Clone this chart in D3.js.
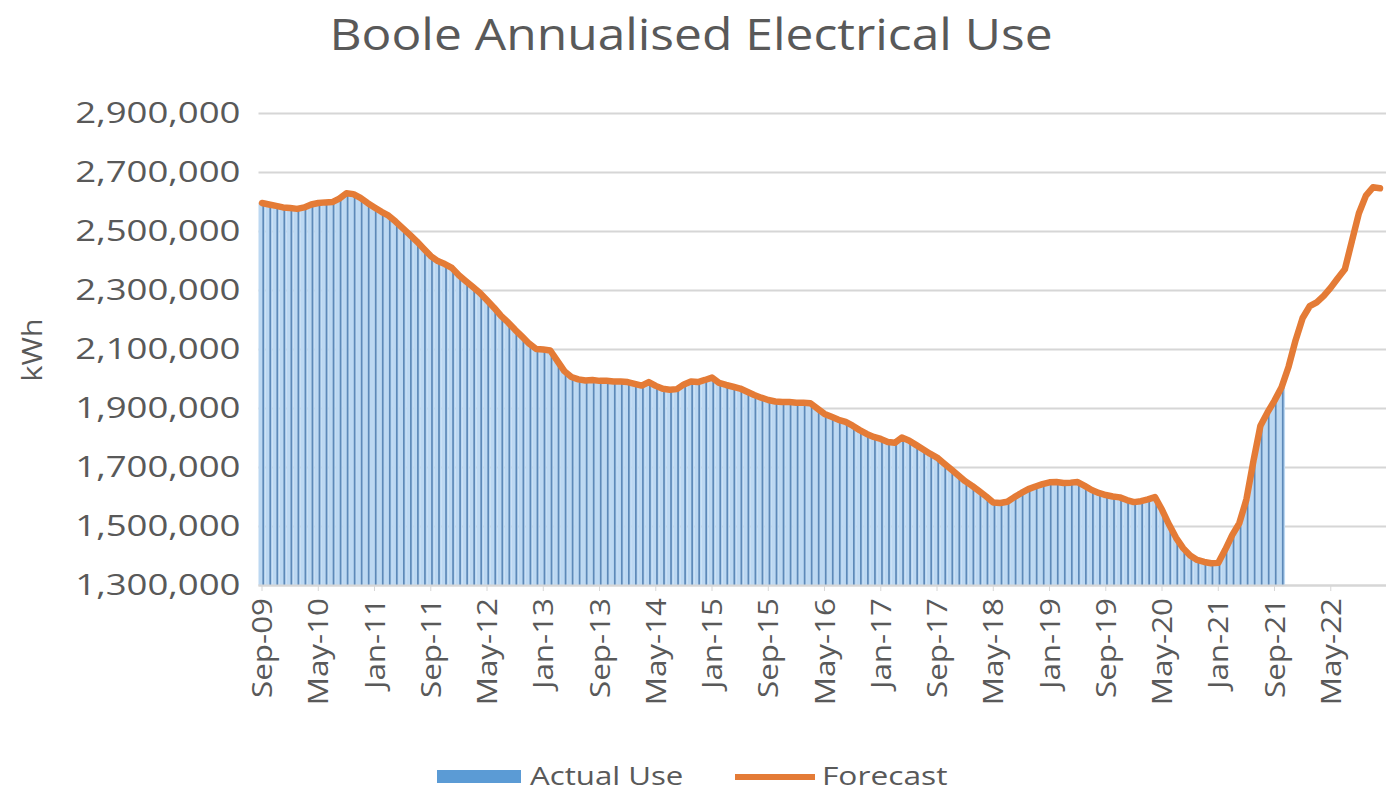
<!DOCTYPE html>
<html>
<head>
<meta charset="utf-8">
<script src="https://cdn.jsdelivr.net/npm/d3@7"></script>
<style>
  html, body { margin: 0; padding: 0; background: #fff; }
  text { font-family: "Open Sans", "Noto Sans", sans-serif; fill: #595959; }
</style>
</head>
<body>
<svg id="chart" width="1386" height="793"></svg>
<script>
/* global d3 */

// monthly categories, Sep-09 onwards, one label every 8 months
const firstMonth = new Date(2009, 8, 1);
const monthCount = 160;
const labelEvery = 8;

const yTicks = [1300000, 1500000, 1700000, 1900000, 2100000, 2300000, 2500000, 2700000, 2900000];

// annualised kWh
const forecast = [
  2595000, 2590000, 2585000, 2580000, 2578000, 2575000, 2580000, 2590000, 2595000, 2597000,
  2598000, 2610000, 2628000, 2625000, 2612000, 2595000, 2580000, 2565000, 2552000, 2532000,
  2510000, 2488000, 2465000, 2440000, 2415000, 2398000, 2388000, 2375000, 2350000, 2330000,
  2310000, 2290000, 2265000, 2240000, 2212000, 2190000, 2165000, 2142000, 2118000, 2100000,
  2098000, 2095000, 2060000, 2025000, 2005000, 1997000, 1993000, 1995000, 1992000, 1992000,
  1990000, 1990000, 1988000, 1982000, 1976000, 1988000, 1975000, 1965000, 1962000, 1964000,
  1980000, 1990000, 1988000, 1995000, 2003000, 1985000, 1978000, 1972000, 1966000, 1955000,
  1944000, 1935000, 1927000, 1922000, 1920000, 1920000, 1918000, 1918000, 1916000, 1898000,
  1880000, 1870000, 1860000, 1853000, 1840000, 1825000, 1812000, 1802000, 1795000, 1785000,
  1782000, 1800000, 1790000, 1775000, 1760000, 1745000, 1732000, 1712000, 1692000, 1672000,
  1652000, 1636000, 1618000, 1600000, 1580000, 1578000, 1582000, 1598000, 1612000, 1625000,
  1634000, 1642000, 1648000, 1649000, 1646000, 1647000, 1649000, 1636000, 1622000, 1612000,
  1605000, 1600000, 1597000, 1588000, 1581000, 1584000, 1590000, 1598000, 1555000, 1505000,
  1460000, 1425000, 1400000, 1385000, 1378000, 1374000, 1375000, 1420000, 1470000, 1510000,
  1590000, 1720000, 1840000, 1885000, 1925000, 1970000, 2040000, 2130000, 2205000, 2245000,
  2258000, 2280000, 2308000, 2340000, 2370000, 2465000, 2560000, 2620000, 2648000, 2645000
];

const actualUse = [
  2595000, 2590000, 2585000, 2580000, 2578000, 2575000, 2580000, 2590000, 2595000, 2597000,
  2598000, 2610000, 2628000, 2625000, 2612000, 2595000, 2580000, 2565000, 2552000, 2532000,
  2510000, 2488000, 2465000, 2440000, 2415000, 2398000, 2388000, 2375000, 2350000, 2330000,
  2310000, 2290000, 2265000, 2240000, 2212000, 2190000, 2165000, 2142000, 2118000, 2100000,
  2098000, 2095000, 2060000, 2025000, 2005000, 1997000, 1993000, 1995000, 1992000, 1992000,
  1990000, 1990000, 1988000, 1982000, 1976000, 1988000, 1975000, 1965000, 1962000, 1964000,
  1980000, 1990000, 1988000, 1995000, 2003000, 1985000, 1978000, 1972000, 1966000, 1955000,
  1944000, 1935000, 1927000, 1922000, 1920000, 1920000, 1918000, 1918000, 1916000, 1898000,
  1880000, 1870000, 1860000, 1853000, 1840000, 1825000, 1812000, 1802000, 1795000, 1785000,
  1782000, 1800000, 1790000, 1775000, 1760000, 1745000, 1732000, 1712000, 1692000, 1672000,
  1652000, 1636000, 1618000, 1600000, 1580000, 1578000, 1582000, 1598000, 1612000, 1625000,
  1634000, 1642000, 1648000, 1649000, 1646000, 1647000, 1649000, 1636000, 1622000, 1612000,
  1605000, 1600000, 1597000, 1588000, 1581000, 1584000, 1590000, 1598000, 1555000, 1505000,
  1460000, 1425000, 1400000, 1385000, 1378000, 1374000, 1375000, 1420000, 1470000, 1510000,
  1590000, 1720000, 1840000, 1885000, 1925000, 1970000
];

const months = d3.timeMonth.range(firstMonth, d3.timeMonth.offset(firstMonth, monthCount));
const monthLabel = d3.timeFormat('%b-%y');

const svg = d3.select('#chart');
const plot = { left: 258.5, right: 1383.5, top: 113, bottom: 585 };

// the original text is drawn a little wider than any local font, so stretch it
function widen(sel, factor) {
  sel.each(function () {
    const w = this.getComputedTextLength();
    d3.select(this)
      .attr('textLength', w * factor)
      .attr('lengthAdjust', 'spacingAndGlyphs');
  });
}

const x = d3.scaleBand()
  .domain(d3.range(monthCount))
  .range([plot.left, plot.right])
  .padding(0);
const bw = x.bandwidth();

const y = d3.scaleLinear()
  .domain([1300000, 2900000])
  .range([plot.bottom, plot.top]);

// title
svg.append('text')
  .attr('x', 691)
  .attr('y', 50)
  .attr('text-anchor', 'middle')
  .style('font-size', '44px')
  .text('Boole Annualised Electrical Use')
  .call(widen, 1.13);

// gridlines
svg.append('g')
  .attr('transform', `translate(${plot.left},0)`)
  .call(d3.axisLeft(y).tickValues(yTicks).tickSize(-(1386 - plot.left)).tickFormat(''))
  .call(g => g.select('.domain').remove())
  .call(g => g.selectAll('line').attr('stroke', '#d6d6d6').attr('stroke-width', 2));

// y tick labels
svg.append('g')
  .attr('transform', `translate(${plot.left},0)`)
  .call(d3.axisLeft(y).tickValues(yTicks).tickSize(0).tickPadding(18).tickFormat(d3.format(',')))
  .call(g => g.select('.domain').remove())
  .call(g => g.selectAll('text')
    .style('font-size', '29px')
    .attr('fill', '#595959')
    .call(widen, 1.26));

svg.append('text')
  .attr('transform', 'translate(42,350) rotate(-90)')
  .attr('text-anchor', 'middle')
  .style('font-size', '28px')
  .text('kWh')
  .call(widen, 1.1);

// bars: light fill with a darker stripe, like the thin columns in the original
const bars = svg.append('g');
bars.selectAll('rect.fill')
  .data(actualUse)
  .join('rect')
    .attr('class', 'fill')
    .attr('x', (d, i) => x(i))
    .attr('y', d => y(d))
    .attr('width', bw)
    .attr('height', d => plot.bottom - y(d))
    .attr('fill', '#bcd8f2');
bars.selectAll('rect.edge')
  .data(actualUse)
  .join('rect')
    .attr('class', 'edge')
    .attr('x', (d, i) => x(i) + bw * 0.55)
    .attr('y', d => y(d))
    .attr('width', 1.7)
    .attr('height', d => plot.bottom - y(d))
    .attr('fill', '#5d89b8');

// x axis
const xAxis = svg.append('g')
  .attr('transform', `translate(0,${plot.bottom})`)
  .call(d3.axisBottom(x)
    .tickValues(d3.range(0, monthCount, labelEvery))
    .tickSize(6)
    .tickPadding(0)
    .tickFormat(i => monthLabel(months[i])));
xAxis.select('.domain')
  .attr('d', `M${plot.left},0.5H1386`)
  .attr('stroke', '#d6d6d6')
  .attr('stroke-width', 2);
xAxis.selectAll('line').attr('stroke', '#d6d6d6');
xAxis.selectAll('text')
  .attr('transform', 'rotate(-90)')
  .attr('x', -13)
  .attr('y', 0)
  .attr('dy', '0.36em')
  .attr('text-anchor', 'end')
  .attr('fill', '#595959')
  .style('font-size', '28px')
  .call(widen, 1.12);

// forecast line
const line = d3.line()
  .x((d, i) => x(i) + bw / 2)
  .y(d => y(d));

svg.append('path')
  .datum(forecast)
  .attr('d', line)
  .attr('fill', 'none')
  .attr('stroke', '#e47b36')
  .attr('stroke-width', 6.5)
  .attr('stroke-linejoin', 'round')
  .attr('stroke-linecap', 'round');

// legend
const legend = svg.append('g');
legend.append('rect')
  .attr('x', 437).attr('y', 770)
  .attr('width', 84).attr('height', 13)
  .attr('fill', '#5b9bd5');
legend.append('text')
  .attr('x', 530).attr('y', 785)
  .style('font-size', '26px')
  .text('Actual Use')
  .call(widen, 1.2);
legend.append('line')
  .attr('x1', 735).attr('x2', 815)
  .attr('y1', 777).attr('y2', 777)
  .attr('stroke', '#e47b36')
  .attr('stroke-width', 6);
legend.append('text')
  .attr('x', 822).attr('y', 785)
  .style('font-size', '26px')
  .text('Forecast')
  .call(widen, 1.22);
</script>
</body>
</html>
